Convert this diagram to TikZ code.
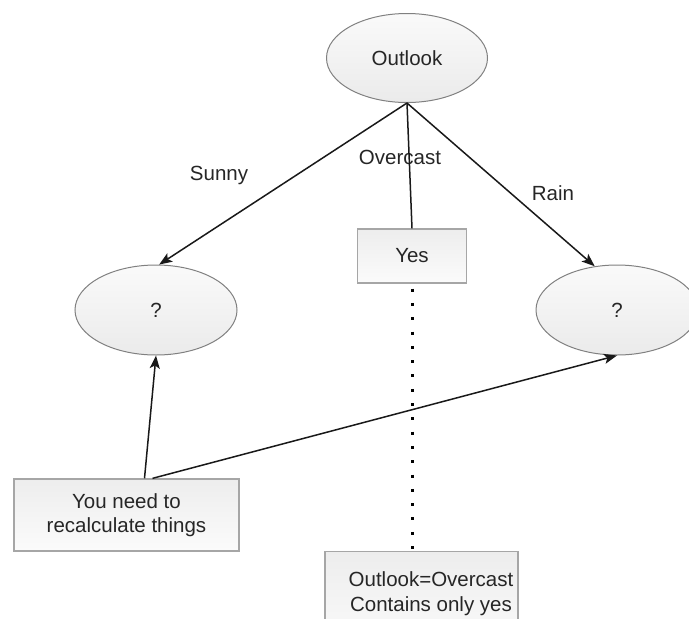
\documentclass[tikz,border=0pt]{standalone}
\usepackage{fontspec}
\setmainfont{Liberation Sans}
\usetikzlibrary{shapes.geometric,arrows.meta}
\tikzset{
  lbl/.style={font=\fontsize{20.5}{24.6}\selectfont, text=black!85, inner sep=0pt},
  ell/.style={ellipse, draw=black!50, line width=1pt, top color=gray!4, bottom color=gray!16,
              inner sep=0pt, font=\fontsize{20.5}{24.6}\selectfont, text=black!85},
  box/.style={rectangle, draw=black!35, line width=1.3pt, top color=gray!14, bottom color=gray!3,
              inner sep=0pt, align=center, font=\fontsize{20.5}{24.6}\selectfont, text=black!85},
  conn/.style={line width=1.5pt, black!90},
  arr/.style={conn, -{Stealth[length=13pt,width=10pt,inset=3pt]}},
  dots/.style={line width=3pt, dash pattern=on 3pt off 11.3pt, dash phase=-5pt}
}
\begin{document}
\begin{tikzpicture}[x=1pt,y=-1pt]
\useasboundingbox (0,0) rectangle (689,619);
\clip (0,0) rectangle (689,619);
\node[ell, minimum width=161pt, minimum height=89pt] (outlook) at (407,58) {Outlook};
\node[ell, minimum width=162pt, minimum height=90pt] (left) at (156,310) {?};
\node[ell, minimum width=162pt, minimum height=90pt] (right) at (617,310) {?};
\node[box, minimum width=109pt, minimum height=54pt] (yes) at (412,256) {Yes};
\node[box, minimum width=225pt, minimum height=72pt] (need) at (126.5,515) {You need to\\recalculate things};
\node[box, minimum width=193pt, minimum height=100pt, anchor=north] (over) at (421.5,551) {};
\node[lbl, anchor=base] (t1) at (431,586) {Outlook=Overcast};
\node[lbl, anchor=base] (t2) at (431,611) {Contains only yes};
\node[lbl] (sunny) at (219,175) {Sunny};
\node[lbl] (overcast) at (400,157) {Overcast};
\node[lbl] (rain) at (553,193) {Rain};

\draw[arr] (outlook.south) -- (left.86);
\draw[arr] (outlook.south) -- (right.117);
\draw[conn] (outlook.south) -- (yes.north);
\draw[dots] (yes.south) -- (yes.south |- over.north);
\draw[arr] ([xshift=18pt]need.north) -- (left.south);
\draw[arr] ([xshift=26pt]need.north) -- (right.south);
\end{tikzpicture}
\end{document}
